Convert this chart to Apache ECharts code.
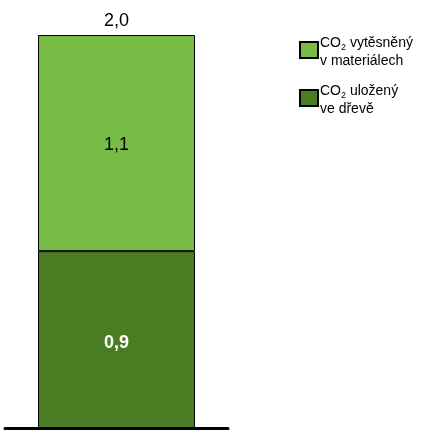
<!DOCTYPE html>
<html><head><meta charset="utf-8">
<script src="https://cdn.jsdelivr.net/npm/echarts@6/dist/echarts.min.js"></script>
<style>html,body{margin:0;padding:0;background:#fff}#c{width:433px;height:438px}</style>
</head><body><div id="c"></div>
<script>
const categories = ['A'];
const stored = [0.9];
const displaced = [1.1];
const totals = [2.0];
const legendLines = {
  displaced: ['vytěsněný', 'v materiálech'],
  stored: ['uložený', 've dřevě']
};
const fmt = v => v.toFixed(1).replace('.', ',');
const F = 'Liberation Sans, Arial';
const rich = {
  n: {fontFamily: F, fontSize: 14, color: '#000', lineHeight: 18},
  s: {fontFamily: F, fontSize: 9, color: '#000', lineHeight: 18, verticalAlign: 'bottom', padding: [8, 0, 0, 0]}
};
const legendText = (key, top) => ({
  type: 'text', left: 320, top: top,
  style: {text: '{n|CO}{s|2}{n| ' + legendLines[key][0] + '}\n{n|' + legendLines[key][1] + '}', rich: rich}
});
const chart = echarts.init(document.getElementById('c'));
chart.setOption({
  animation: false,
  grid: {left: 5, right: 205, top: 35, bottom: 10},
  xAxis: {type: 'category', data: categories, axisLine: {lineStyle: {color: '#000', width: 3}}, axisTick: {show: false}, axisLabel: {show: false}},
  yAxis: {type: 'value', min: 0, max: 2.0, show: false, splitLine: {show: false}},
  legend: [
    {left: 294, top: 36, itemWidth: 18, itemHeight: 16, icon: 'rect', data: ['displaced'], formatter: () => '', selectedMode: false},
    {left: 294, top: 84, itemWidth: 18, itemHeight: 16, icon: 'rect', data: ['stored'], formatter: () => '', selectedMode: false}
  ],
  graphic: [legendText('displaced', 35), legendText('stored', 83)],
  series: [
    {name: 'stored', type: 'bar', stack: 't', data: stored, barWidth: '70.4%',
      itemStyle: {color: '#4a7d23', borderColor: '#000', borderWidth: 1},
      label: {show: true, position: 'inside', offset: [0, 3], formatter: p => fmt(p.value), color: '#fff', fontWeight: 'bold', fontSize: 18, fontFamily: F}},
    {name: 'displaced', type: 'bar', stack: 't', data: displaced,
      itemStyle: {color: '#78bb45', borderColor: '#000', borderWidth: 1},
      label: {show: true, position: 'inside', offset: [0, 2], formatter: p => fmt(p.value), color: '#000', fontSize: 18, fontFamily: F}},
    {name: 'total', type: 'bar', stack: 't', data: totals.map(() => 0),
      label: {show: true, position: 'top', distance: 5, formatter: p => fmt(totals[p.dataIndex]), color: '#000', fontSize: 18, fontFamily: F}}
  ]
});
</script></body></html>
